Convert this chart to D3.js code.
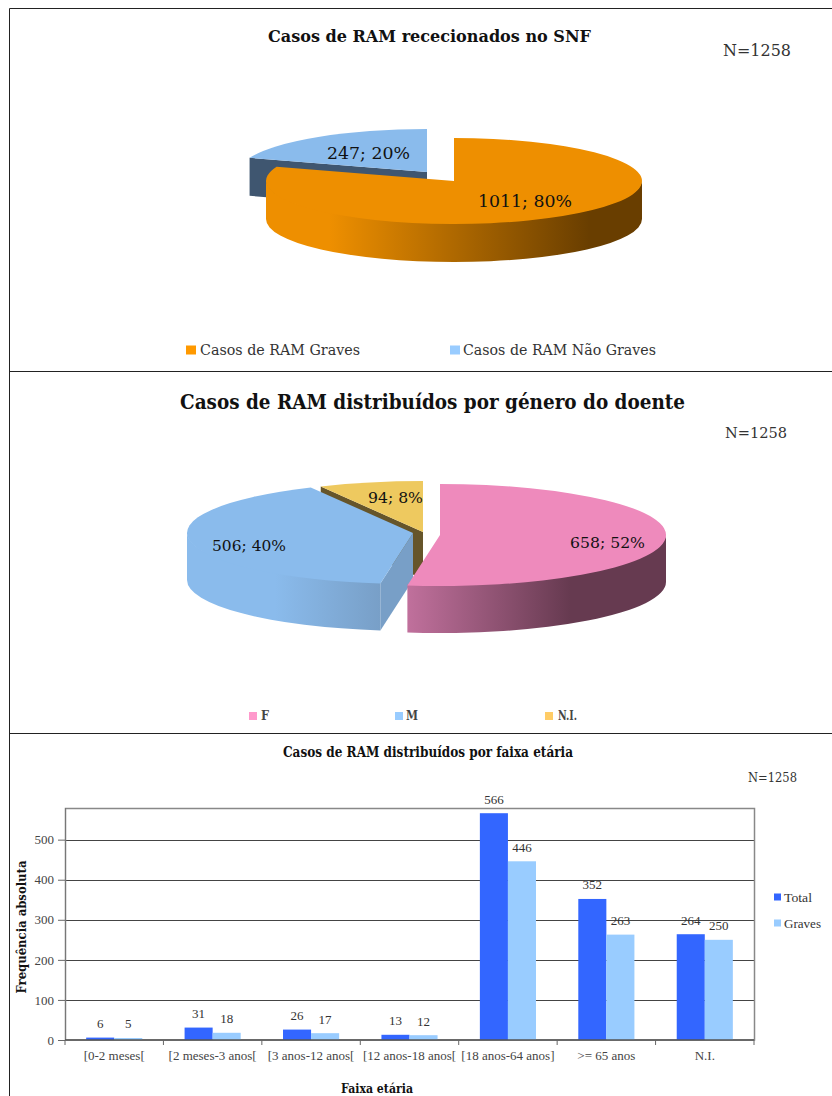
<!DOCTYPE html>
<html>
<head>
<meta charset="utf-8">
<script src="https://cdnjs.cloudflare.com/ajax/libs/d3/7.8.5/d3.min.js"></script>
<style>
  body { margin: 0; background: #fff; overflow: hidden; }
  text { font-family: "DejaVu Serif", serif; }
  .small { font-family: "Liberation Serif", serif; }
</style>
</head>
<body>
<script>
// data
var pie1Names = ["Casos de RAM Graves", "Casos de RAM Não Graves"];
var pie1Values = [1011, 247];
var pie1Pct = [80, 20];

var pie2Names = ["F", "M", "N.I."];
var pie2Values = [658, 506, 94];
var pie2Pct = [52, 40, 8];

var ageGroups = ["[0-2 meses[", "[2 meses-3 anos[", "[3 anos-12 anos[", "[12 anos-18 anos[", "[18 anos-64 anos]", ">= 65 anos", "N.I."];
var totals = [6, 31, 26, 13, 566, 352, 264];
var graves = [5, 18, 17, 12, 446, 263, 250];
var yTicks = [0, 100, 200, 300, 400, 500];
var barSeries = ["Total", "Graves"];

var svg = d3.select("body").append("svg")
    .attr("width", 832)
    .attr("height", 1096);
var defs = svg.append("defs");

svg.append("rect").attr("width", 832).attr("height", 1096).attr("fill", "#fff");

// text helper, w forces the width seen in the picture
function label(parent, str, x, y, size, w, opts) {
    opts = opts || {};
    var t = parent.append("text")
        .attr("x", x)
        .attr("y", y)
        .attr("font-size", size)
        .attr("dominant-baseline", "central")
        .attr("text-anchor", opts.anchor || "start")
        .attr("fill", opts.fill || "#222")
        .text(str);
    if (opts.bold) t.attr("font-weight", "bold");
    if (opts.cls) t.attr("class", opts.cls);
    if (w) t.attr("textLength", w).attr("lengthAdjust", "spacingAndGlyphs");
    return t;
}

// frames
var frames = [[9.5, 8.5, 832, 8.5], [9.5, 8.5, 9.5, 1096], [9.5, 371.5, 832, 371.5], [9.5, 733.5, 832, 733.5]];
svg.selectAll(".frame").data(frames).enter().append("line")
    .attr("class", "frame")
    .attr("x1", function (d) { return d[0]; })
    .attr("y1", function (d) { return d[1]; })
    .attr("x2", function (d) { return d[2]; })
    .attr("y2", function (d) { return d[3]; })
    .attr("stroke", "#222");

// 3D pie: top from d3.pie + d3.arc squashed in y, walls extruded below it
function pie3d(values, cfg) {
    var k = cfg.ry / cfg.rx,
        depth = cfg.depth / k,
        slices = d3.pie().sort(null).startAngle(0).endAngle(2 * Math.PI)(values),
        arc = d3.arc().innerRadius(0).outerRadius(cfg.rx),
        g = svg.append("g");

    function pt(r, a, dy) {
        return [r * Math.sin(a), -r * Math.cos(a) + dy];
    }

    d3.range(slices.length).reverse().forEach(function (i) {
        var s = slices[i],
            c = cfg.centers[i],
            sg = g.append("g").attr("transform", "translate(" + c[0] + "," + c[1] + ") scale(1," + k + ")"),
            a0 = Math.max(s.startAngle, Math.PI / 2),
            a1 = Math.min(s.endAngle, 3 * Math.PI / 2),
            id = cfg.id + i;

        // gradient runs in the slice's own coordinates
        var grad = defs.append("linearGradient")
            .attr("id", id)
            .attr("gradientUnits", "userSpaceOnUse")
            .attr("x1", cfg.wallX[i][0] - c[0]).attr("x2", cfg.wallX[i][1] - c[0])
            .attr("y1", 0).attr("y2", 0);
        cfg.wallStops[i].forEach(function (st) {
            grad.append("stop").attr("offset", st[0]).attr("stop-color", st[1]);
        });

        // flat face of the cut, seen when the slice starts on the left half
        if (s.startAngle > Math.PI) {
            sg.append("path")
                .attr("d", d3.line()([pt(0, 0, 0), pt(cfg.rx, s.startAngle, 0), pt(cfg.rx, s.startAngle, depth), pt(0, 0, depth)]) + "Z")
                .attr("fill", cfg.faces[i]);
        }
        // outer wall, its top edge tucked under the slice to avoid a seam
        if (a1 > a0) {
            var p = d3.path();
            p.arc(0, -4, cfg.rx, a0 - Math.PI / 2, a1 - Math.PI / 2);
            p.arc(0, depth, cfg.rx, a1 - Math.PI / 2, a0 - Math.PI / 2, true);
            p.closePath();
            sg.append("path").attr("d", p.toString()).attr("fill", "url(#" + id + ")");
        }
        sg.append("path").attr("d", arc(s)).attr("fill", cfg.tops[i]);
    });
}

// first pie
label(svg, "Casos de RAM rececionados no SNF", 429.5, 36, 16, 323, {anchor: "middle", bold: true, fill: "#111"});
label(svg, "N=1258", 723, 50, 16, 68, {fill: "#333"});

pie3d(pie1Values, {
    id: "p1w",
    rx: 188, ry: 43, depth: 38,
    centers: [[454, 181], [427, 172]],
    tops: ["#ee8f00", "#8abbec"],
    faces: ["#693e00", "#3f5670"],
    wallX: [[266, 642], [0, 1]],
    wallStops: [[[0, "#ee8f00"], [0.17, "#ee8f00"], [0.86, "#693e00"], [1, "#693e00"]], [[0, "#3f5670"]]]
});
label(svg, pie1Values[0] + "; " + pie1Pct[0] + "%", 478, 201, 17, 94, {fill: "#111"});
label(svg, pie1Values[1] + "; " + pie1Pct[1] + "%", 327, 153, 17, 83, {fill: "#111"});

var leg1 = [[186, 200, 160, "#ff9900"], [450, 463, 193, "#99ccff"]];
pie1Names.forEach(function (n, i) {
    svg.append("rect").attr("x", leg1[i][0]).attr("y", 345.5).attr("width", 10).attr("height", 9).attr("fill", leg1[i][3]);
    label(svg, n, leg1[i][1], 350, 15, leg1[i][2], {fill: "#333"});
});

// second pie
label(svg, "Casos de RAM distribuídos por género do doente", 432.5, 402, 20, 505, {anchor: "middle", bold: true, fill: "#111"});
label(svg, "N=1258", 725, 433, 15, 62, {fill: "#333"});

pie3d(pie2Values, {
    id: "p2w",
    rx: 226, ry: 51, depth: 47,
    centers: [[440, 535], [413, 533], [423, 532]],
    tops: ["#ee8abc", "#8abbec", "#eec95f"],
    faces: ["#663a50", "#789fc7", "#66552a"],
    wallX: [[408, 666], [188, 381], [0, 1]],
    wallStops: [
        [[0, "#c0709c"], [0.63, "#663a50"], [1, "#663a50"]],
        [[0, "#8abbec"], [0.45, "#8abbec"], [1, "#789fc7"]],
        [[0, "#66552a"]]
    ]
});
label(svg, pie2Values[0] + "; " + pie2Pct[0] + "%", 570, 543, 15, 75, {fill: "#111"});
label(svg, pie2Values[1] + "; " + pie2Pct[1] + "%", 212, 546, 15, 74, {fill: "#111"});
label(svg, pie2Values[2] + "; " + pie2Pct[2] + "%", 368, 498, 15, 55, {fill: "#111"});

var leg2 = [[249, 261, 8, "#ff99cc"], [395, 406, 12, "#99ccff"], [545, 558, 19, "#ffcc66"]];
pie2Names.forEach(function (n, i) {
    svg.append("rect").attr("x", leg2[i][0]).attr("y", 712).attr("width", 8).attr("height", 8).attr("fill", leg2[i][3]);
    label(svg, n, leg2[i][1], 716, 12, leg2[i][2], {fill: "#444", bold: true});
});

// bar chart
label(svg, "Casos de RAM distribuídos por faixa etária", 428, 752, 14, 290, {anchor: "middle", bold: true, fill: "#111"});
label(svg, "N=1258", 748, 777, 13, 49, {fill: "#333"});

var x = d3.scaleBand().domain(ageGroups).range([65, 754]),
    x1 = d3.scaleBand().domain(barSeries).range([0, x.bandwidth()]).paddingInner(0).paddingOuter(0.754),
    y = d3.scaleLinear().domain([0, 579]).range([1040, 808]);

svg.append("g").selectAll("line")
    .data(yTicks.slice(1))
    .enter().append("line")
    .attr("x1", 65).attr("x2", 754)
    .attr("y1", function (d) { return Math.round(y(d)) + 0.5; })
    .attr("y2", function (d) { return Math.round(y(d)) + 0.5; })
    .attr("stroke", "#444");

svg.append("rect")
    .attr("x", 65.5).attr("y", 808.5).attr("width", 689).attr("height", 231.5)
    .attr("fill", "none").attr("stroke", "#888").attr("stroke-width", 1.5);

[totals, graves].forEach(function (vals, s) {
    var name = barSeries[s], col = s === 0 ? "#3366ff" : "#99ccff";
    svg.append("g").selectAll("rect")
        .data(vals)
        .enter().append("rect")
        .attr("x", function (d, i) { return x(ageGroups[i]) + x1(name); })
        .attr("y", function (d) { return y(d); })
        .attr("width", x1.bandwidth())
        .attr("height", function (d) { return y(0) - y(d); })
        .attr("fill", col);
    vals.forEach(function (d, i) {
        label(svg, d, x(ageGroups[i]) + x1(name) + x1.bandwidth() / 2, y(d) - 14, 13, null, {anchor: "middle", cls: "small", fill: "#333"});
    });
});

var axisY = svg.append("g")
    .attr("transform", "translate(65,0)")
    .call(d3.axisLeft(y).tickValues(yTicks).tickSize(7).tickPadding(4));
axisY.selectAll("text").attr("class", "small").attr("font-size", 13).attr("fill", "#444");
axisY.selectAll("line").attr("stroke", "#666");
axisY.select(".domain").attr("stroke", "#777").attr("d", "M0.5,808V1040");

var axisX = svg.append("g")
    .attr("transform", "translate(0,1040)")
    .call(d3.axisBottom(x).tickSize(0).tickPadding(11));
axisX.selectAll("text").attr("class", "small").attr("font-size", 13).attr("fill", "#444");
axisX.select(".domain").attr("stroke", "#555").attr("stroke-width", 1.5).attr("d", "M65,0H754");
svg.append("g").selectAll("line")
    .data(ageGroups.map(function (d) { return x(d); }).concat([754]))
    .enter().append("line")
    .attr("x1", function (d) { return d; })
    .attr("x2", function (d) { return d; })
    .attr("y1", 1040).attr("y2", 1045)
    .attr("stroke", "#666");

svg.append("g").attr("transform", "translate(21,927) rotate(-90)").call(function (g) {
    label(g, "Frequência absoluta", 0, 0, 13, 133, {anchor: "middle", bold: true, fill: "#111"});
});
label(svg, "Faixa etária", 377, 1088, 13, 72, {anchor: "middle", bold: true, fill: "#111"});

barSeries.forEach(function (n, i) {
    var cy = [897, 923][i];
    svg.append("rect").attr("x", 774).attr("y", cy - 3.5).attr("width", 7).attr("height", 7).attr("fill", i === 0 ? "#3366ff" : "#99ccff");
    label(svg, n, 784, cy, 13, [28, 37][i], {cls: "small", fill: "#333"});
});
</script>
</body>
</html>
